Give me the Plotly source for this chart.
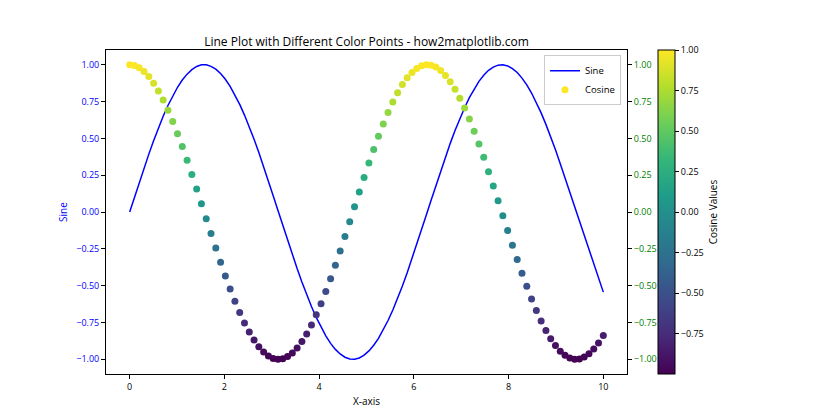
import plotly.graph_objects as go

x_vals = [0.000, 0.101, 0.202, 0.303, 0.404, 0.505, 0.606, 0.707, 0.808, 0.909,
          1.010, 1.111, 1.212, 1.313, 1.414, 1.515, 1.616, 1.717, 1.818, 1.919,
          2.020, 2.121, 2.222, 2.323, 2.424, 2.525, 2.626, 2.727, 2.828, 2.929,
          3.030, 3.131, 3.232, 3.333, 3.434, 3.535, 3.636, 3.737, 3.838, 3.939,
          4.040, 4.141, 4.242, 4.343, 4.444, 4.545, 4.646, 4.747, 4.848, 4.949,
          5.051, 5.152, 5.253, 5.354, 5.455, 5.556, 5.657, 5.758, 5.859, 5.960,
          6.061, 6.162, 6.263, 6.364, 6.465, 6.566, 6.667, 6.768, 6.869, 6.970,
          7.071, 7.172, 7.273, 7.374, 7.475, 7.576, 7.677, 7.778, 7.879, 7.980,
          8.081, 8.182, 8.283, 8.384, 8.485, 8.586, 8.687, 8.788, 8.889, 8.990,
          9.091, 9.192, 9.293, 9.394, 9.495, 9.596, 9.697, 9.798, 9.899, 10.000]

sine_vals = [0.000, 0.101, 0.201, 0.298, 0.393, 0.484, 0.570, 0.650, 0.723, 0.789,
             0.847, 0.896, 0.936, 0.967, 0.988, 0.999, 0.999, 0.989, 0.970, 0.940,
             0.901, 0.853, 0.796, 0.731, 0.658, 0.579, 0.494, 0.404, 0.310, 0.213,
             0.111, 0.010, -0.091, -0.191, -0.289, -0.384, -0.475, -0.561, -0.642, -0.716,
             -0.783, -0.841, -0.892, -0.933, -0.964, -0.986, -0.998, -0.999, -0.991, -0.972,
             -0.943, -0.905, -0.858, -0.801, -0.737, -0.665, -0.587, -0.502, -0.412, -0.318,
             -0.221, -0.121, -0.021, 0.080, 0.180, 0.279, 0.374, 0.466, 0.553, 0.634,
             0.708, 0.776, 0.836, 0.887, 0.929, 0.962, 0.984, 0.997, 1.000, 0.992,
             0.974, 0.947, 0.909, 0.863, 0.808, 0.744, 0.673, 0.595, 0.511, 0.422,
             0.328, 0.231, 0.131, 0.031, -0.070, -0.170, -0.269, -0.365, -0.457, -0.544]

cosine_vals = [1.000, 0.995, 0.980, 0.954, 0.920, 0.875, 0.822, 0.760, 0.691, 0.615,
               0.532, 0.444, 0.351, 0.255, 0.156, 0.056, -0.045, -0.146, -0.245, -0.341,
               -0.434, -0.522, -0.606, -0.683, -0.753, -0.815, -0.869, -0.915, -0.951, -0.977,
               -0.994, -1.000, -0.996, -0.982, -0.958, -0.924, -0.880, -0.828, -0.767, -0.698,
               -0.623, -0.540, -0.453, -0.361, -0.265, -0.166, -0.066, 0.035, 0.136, 0.235,
               0.332, 0.425, 0.514, 0.598, 0.676, 0.747, 0.810, 0.865, 0.911, 0.948,
               0.975, 0.993, 1.000, 0.997, 0.984, 0.960, 0.927, 0.885, 0.833, 0.773,
               0.706, 0.631, 0.549, 0.462, 0.371, 0.274, 0.176, 0.076, -0.025, -0.126,
               -0.225, -0.322, -0.416, -0.505, -0.590, -0.668, -0.740, -0.804, -0.860, -0.907,
               -0.945, -0.973, -0.991, -1.000, -0.998, -0.985, -0.963, -0.931, -0.889, -0.839]

x_ticks = [0, 2, 4, 6, 8, 10]
y_ticks = [-1.0, -0.75, -0.5, -0.25, 0.0, 0.25, 0.5, 0.75, 1.0]
cbar_ticks = [-0.75, -0.5, -0.25, 0.0, 0.25, 0.5, 0.75, 1.0]

FONT = "Open Sans"
TICK = 9
LAB = 10

fig = go.Figure()
fig.add_trace(go.Scatter(
    x=x_vals, y=sine_vals, mode="lines", name="Sine",
    line=dict(color="blue", width=1.5), yaxis="y"))
fig.add_trace(go.Scatter(
    x=x_vals, y=cosine_vals, mode="markers", name="Cosine", yaxis="y2",
    marker=dict(size=7, color=cosine_vals, colorscale="Viridis",
                cmin=min(cosine_vals), cmax=max(cosine_vals),
                line=dict(width=0),
                colorbar=dict(
                    x=1.06, xanchor="left", xref="paper",
                    y=0, yanchor="bottom", len=1, lenmode="fraction",
                    thickness=17, thicknessmode="pixels",
                    ypad=0, xpad=0,
                    outlinecolor="black", outlinewidth=1,
                    tickvals=cbar_ticks, tickformat=".2f",
                    ticks="outside", ticklen=4, tickcolor="black",
                    tickfont=dict(family=FONT, size=TICK, color="black"),
                    title=dict(text="Cosine Values", side="right",
                               font=dict(family=FONT, size=LAB, color="black")),
                ))))

axis_common = dict(showgrid=False, zeroline=False, showline=True,
                   linecolor="black", linewidth=1, ticks="outside",
                   ticklen=4, tickcolor="black")

fig.update_layout(
    width=840, height=420,
    margin=dict(l=106, r=213, t=50, b=46),
    paper_bgcolor="white", plot_bgcolor="white",
    font=dict(family=FONT, size=TICK, color="black"),
    title=dict(text="Line Plot with Different Color Points - how2matplotlib.com",
               x=0.5, xref="paper", xanchor="center",
               y=1, yref="paper", yanchor="bottom", pad=dict(b=4),
               font=dict(family=FONT, size=12, color="black")),
    xaxis=dict(**axis_common, mirror=True, range=[-0.5, 10.5], tickvals=x_ticks,
               title=dict(text="X-axis", standoff=6,
                          font=dict(family=FONT, size=LAB, color="black")),
               tickfont=dict(family=FONT, size=TICK, color="black")),
    yaxis=dict(**axis_common, range=[-1.1, 1.1], tickvals=y_ticks, tickformat=".2f",
               tickfont=dict(family=FONT, size=TICK, color="blue"),
               title=dict(text="Sine", standoff=6,
                          font=dict(family=FONT, size=LAB, color="blue"))),
    yaxis2=dict(**axis_common, overlaying="y", side="right", anchor="x",
                range=[-1.1, 1.1], tickvals=y_ticks, tickformat=".2f",
                tickfont=dict(family=FONT, size=TICK, color="green")),
    legend=dict(x=0.9885, xanchor="right", y=0.984, yanchor="top",
                bgcolor="rgba(255,255,255,0.8)", bordercolor="#cccccc", borderwidth=1,
                itemwidth=30, tracegroupgap=0,
                font=dict(family=FONT, size=9.5, color="black")),
    showlegend=True,
)

fig.write_html("out.html")
